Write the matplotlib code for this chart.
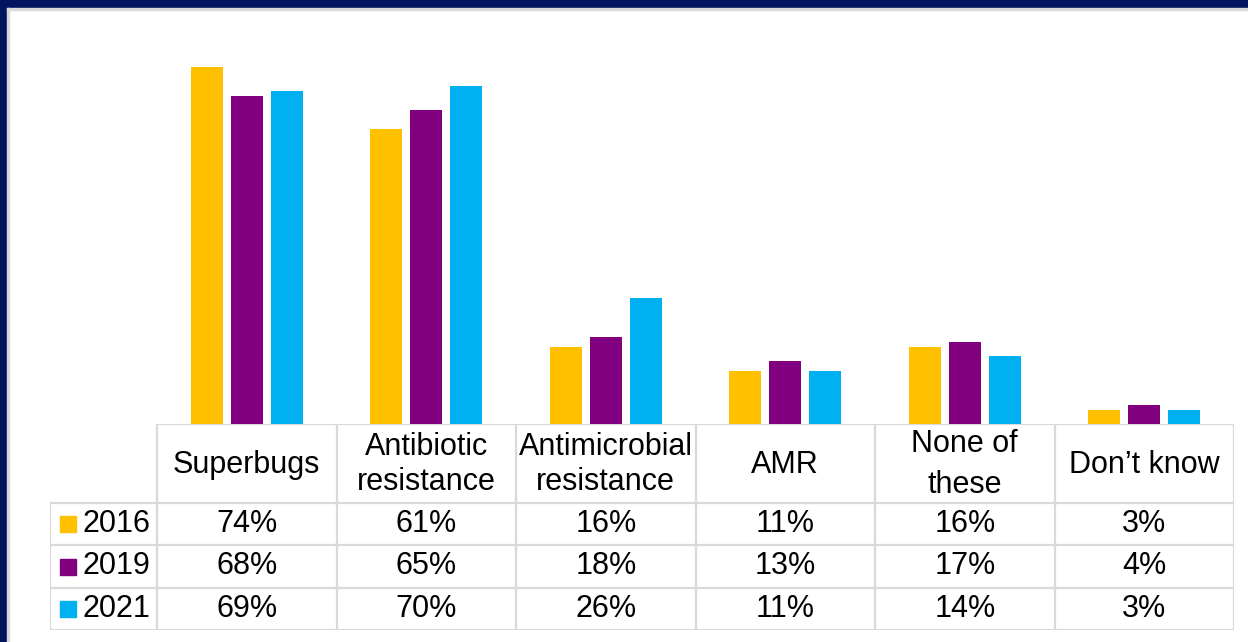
import matplotlib.pyplot as plt
from matplotlib.patches import Rectangle

categories = ['Superbugs', 'Antibiotic\nresistance', 'Antimicrobial\nresistance', 'AMR', 'None of\nthese', 'Don\u2019t know']
years = ['2016', '2019', '2021']
v2016 = [74, 61, 16, 11, 16, 3]
v2019 = [68, 65, 18, 13, 17, 4]
v2021 = [69, 70, 26, 11, 14, 3]
colors = ['#FFC000', '#800080', '#00B0F0']

W, H = 1248, 642
fig = plt.figure(figsize=(W / 100, H / 100), dpi=100)
plt.rcParams['font.family'] = ['Liberation Sans', 'DejaVu Sans']

# navy frame on top and left
fig.patches.append(Rectangle((0, 1 - 8 / H), 1, 8 / H, transform=fig.transFigure, color='#001460', zorder=0))
fig.patches.append(Rectangle((0, 0), 7 / W, 1, transform=fig.transFigure, color='#001460', zorder=0))
fig.patches.append(Rectangle((7 / W, 1 - 10 / H), 1, 2 / H, transform=fig.transFigure, color='#d9d9d9', zorder=0))
fig.patches.append(Rectangle((7 / W, 0), 1.5 / W, 1 - 8 / H, transform=fig.transFigure, color='#d9d9d9', zorder=0))

# pixel layout
col_left, col_right = 157, 1234
leg_left = 50
base_y, top_y = 424, 30
row_edges = [424, 503, 545, 588, 630]

ax = fig.add_axes([col_left / W, 1 - base_y / H, (col_right - col_left) / W, (base_y - top_y) / H])
ax.set_xlim(-0.5, 5.5)
ax.set_ylim(0, 81.6)
ax.axis('off')

x = range(len(categories))
bw = 0.178
step = 0.223
for i, (vals, c) in enumerate(zip([v2016, v2019, v2021], colors)):
    ax.bar([k + (i - 1) * step for k in x], vals, width=bw, color=c)

# data table underneath
tax = fig.add_axes([leg_left / W, 1 - row_edges[-1] / H, (col_right - leg_left) / W, (row_edges[-1] - row_edges[0]) / H])
colw = (col_right - col_left) / 6
xl = -0.5 - (col_left - leg_left) / colw
tax.set_xlim(xl, 5.5)
tax.set_ylim(row_edges[-1], row_edges[0])
tax.axis('off')

lc = '#d9d9d9'
lw = 1.6
tax.plot([-0.5, 5.5], [row_edges[0]] * 2, color=lc, lw=lw)
for y in row_edges[1:]:
    tax.plot([xl, 5.5], [y, y], color=lc, lw=lw)
for k in range(7):
    tax.plot([k - 0.5] * 2, [row_edges[0], row_edges[-1]], color=lc, lw=lw)
tax.plot([xl] * 2, [row_edges[1], row_edges[-1]], color=lc, lw=lw)

fs = 22
hc = (row_edges[0] + row_edges[1]) / 2 + 1
for k, cat in enumerate(categories):
    ls = 1.5 if cat.startswith('None') else 1.2
    tax.text(k, hc, cat, ha='center', va='center', fontsize=fs, linespacing=ls)

for r, (yr, vals, c) in enumerate(zip(years, [v2016, v2019, v2021], colors)):
    yc = (row_edges[r + 1] + row_edges[r + 2]) / 2
    tax.plot(xl + 18 / colw, yc, marker='s', markersize=11, color=c, clip_on=False)
    tax.text(xl + 32 / colw, yc, yr, ha='left', va='center', fontsize=fs)
    for k, v in enumerate(vals):
        tax.text(k, yc, f'{v}%', ha='center', va='center', fontsize=fs)

fig.savefig('out.png', dpi=100)
